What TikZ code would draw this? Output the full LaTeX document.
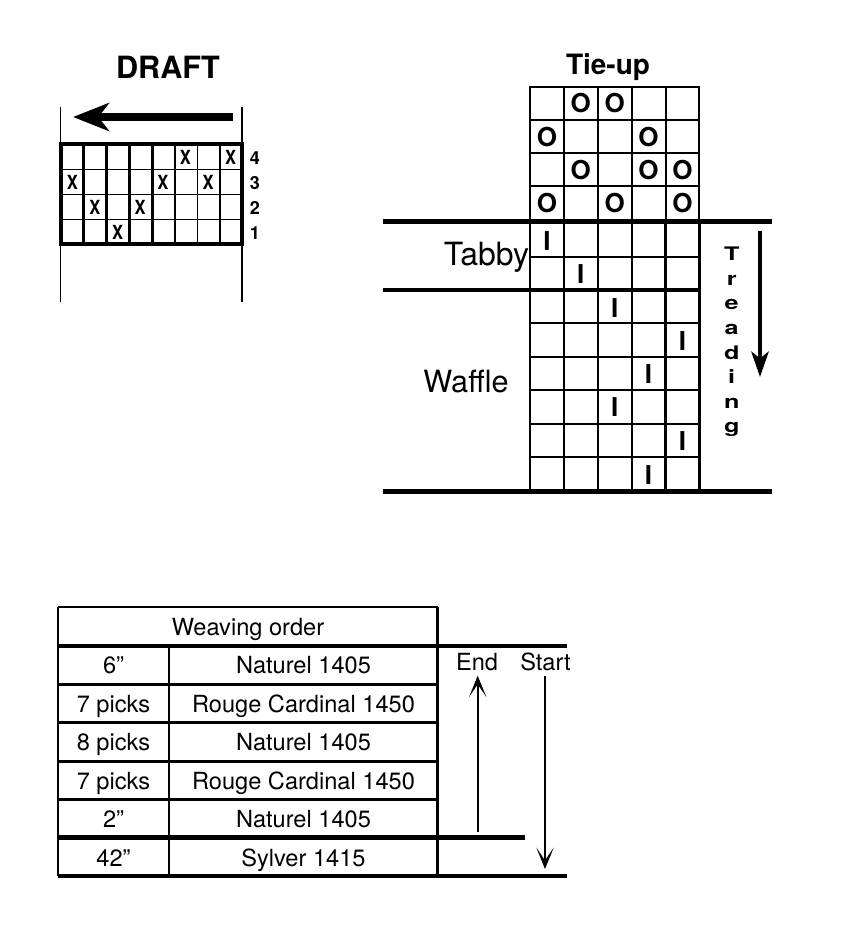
\documentclass[tikz,border=0pt]{standalone}
\usepackage{fontspec}
\setmainfont{TeX Gyre Heros}
\usetikzlibrary{arrows.meta}
\tikzset{
	thinrule/.style={black,line width=1.0pt},
	midrule/.style={black,line width=1.9pt},
	heavyrule/.style={black,line width=3.6pt},
	titletext/.style={anchor=base,inner sep=0pt,font=\bfseries\fontsize{#1}{#1}\selectfont},
	plaintext/.style={anchor=base,inner sep=0pt,font=\fontsize{#1}{#1}\selectfont},
	cellmark/.style={anchor=base,inner sep=0pt,font=\bfseries\fontsize{19.5}{19.5}\selectfont},
	draftmark/.style={anchor=base,inner sep=0pt,xscale=0.85,transform shape,font=\bfseries\fontsize{14.6}{14.6}\selectfont},
	shaftnum/.style={anchor=base,inner sep=0pt,font=\bfseries\fontsize{13.5}{13.5}\selectfont},
	rowtext/.style={plaintext=17.7},
	openhead/.style={-{Stealth[length=16pt,width=13pt,inset=9.5pt]},black,line width=1.7pt}
}
\begin{document}
\begin{tikzpicture}[x=0.75pt,y=-0.75pt,line cap=butt]

	\useasboundingbox (0,0) rectangle (850,942);
	\fill [white] (0,0) rectangle (850,942);

	% draft
	\node [titletext=23] (drafttitle) at (168,78.5) {DRAFT};
	\draw [midrule,line width=1.2pt] (60.5,107)--(60.5,302);
	\draw [midrule,line width=1.2pt] (242,107)--(242,302);
	\draw [-{Stealth[length=27pt,width=21pt,inset=8pt]},black,line width=5.6pt] (233,117)--(73,117);

	\foreach \y in {169.3,194.3,219.3}
		\draw [thinrule] (61,\y)--(242,\y);
	\foreach \x in {83.7,106.3,129.3,152.7}
		\draw [midrule] (\x,144)--(\x,244);
	\foreach \x in {175,197.7,220}
		\draw [thinrule] (\x,144)--(\x,244);
	\draw [heavyrule,line width=2.3pt] (61,144) rectangle (242,244);

	\foreach \c/\r in {6/1,8/1,1/2,5/2,7/2,2/3,4/3,3/4}
		\node [draftmark] (x\c\r) at ({61+22.625*(\c-0.5)},{139+25*\r}) {X};
	\foreach \n/\r in {4/1,3/2,2/3,1/4}
		\node [shaftnum] (shaft\n) at (255,{139+25*\r}) {\n};

	% tie-up
	\node [titletext=21] (tieuptitle) at (608,74.3) {Tie-up};
	\foreach \y in {86.7,120,153.3,186}
		\draw [midrule,line width=1.6pt] (530,\y)--(699.3,\y);
	\foreach \x in {530,564,598,632,665.7,699.3}
		\draw [midrule,line width=1.6pt] (\x,86)--(\x,221);
	\foreach \c/\r in {2/1,3/1,1/2,4/2,2/3,4/3,5/3,1/4,3/4,5/4}
		\node [cellmark] (o\c\r) at ({530+33.86*(\c-0.5)},{79.7+33.2*\r}) {O};

	% treadling
	\foreach \y in {256.7,323,356.7,389.7,423.7,457}
		\draw [midrule,line width=1.6pt] (530,\y)--(699.3,\y);
	\foreach \x in {530,564,598,632,665.7,699.3}
		\draw [midrule] (\x,221)--(\x,491);
	\draw [heavyrule] (383,221.7)--(772,221.7);
	\draw [heavyrule] (383,290)--(699.3,290);
	\draw [heavyrule] (383,491.7)--(772,491.7);

	\foreach \c/\y [count=\r] in {1/250,2/283.5,3/317,5/350,4/383.5,3/416.5,5/450.5,4/484}
		\node [cellmark] (i\r) at ({530+33.86*(\c-0.5)},\y) {I};

	\node [plaintext=24] (tabby) at (486.5,265) {Tabby};
	\node [plaintext=23] (waffle) at (466,392) {Waffle};

	\node [anchor=north,inner sep=0pt,align=center,xscale=1.35,transform shape,font=\bfseries\fontsize{14}{18.4}\selectfont] (treading) at (731.7,247) {T\\r\\e\\a\\d\\i\\n\\g};
	\draw [-{Stealth[length=19pt,width=13pt,inset=5pt]},black,line width=3pt] (760,231)--(760,377);

	% weaving order
	\foreach \y in {684.3,722.7,761.3,799.7}
		\draw [midrule] (58,\y)--(437.7,\y);
	\draw [midrule] (58,607)--(437.7,607);
	\draw [midrule] (58,607)--(58,876);
	\draw [midrule] (437.7,607)--(437.7,876);
	\draw [midrule] (169,646)--(169,876);
	\draw [heavyrule] (58,646)--(566.7,646);
	\draw [heavyrule] (58,837.7)--(525,837.7);
	\draw [heavyrule] (58,876)--(566.7,876);

	\node [rowtext] (ordertitle) at (248,635) {Weaving order};
	\foreach \a/\b/\y [count=\r] in {6”/Naturel 1405/673,7 picks/Rouge Cardinal 1450/712,8 picks/Naturel 1405/750,7 picks/Rouge Cardinal 1450/789,2”/Naturel 1405/827,42”/Sylver 1415/866}{
		\node [rowtext] (amount\r) at (113.5,\y) {\a};
		\node [rowtext] (yarn\r) at (303.5,\y) {\b};
	}

	\node [rowtext] (endlabel) at (477,670) {End};
	\node [rowtext] (startlabel) at (545.5,670) {Start};
	\coordinate (endfoot) at (477.7,832);
	\coordinate (endhead) at (477.7,675.7);
	\coordinate (starttop) at (545,676);
	\coordinate (starthead) at (545,869);
	\draw [openhead] (endfoot)--(endhead);
	\draw [openhead] (starttop)--(starthead);
\end{tikzpicture}
\end{document}
